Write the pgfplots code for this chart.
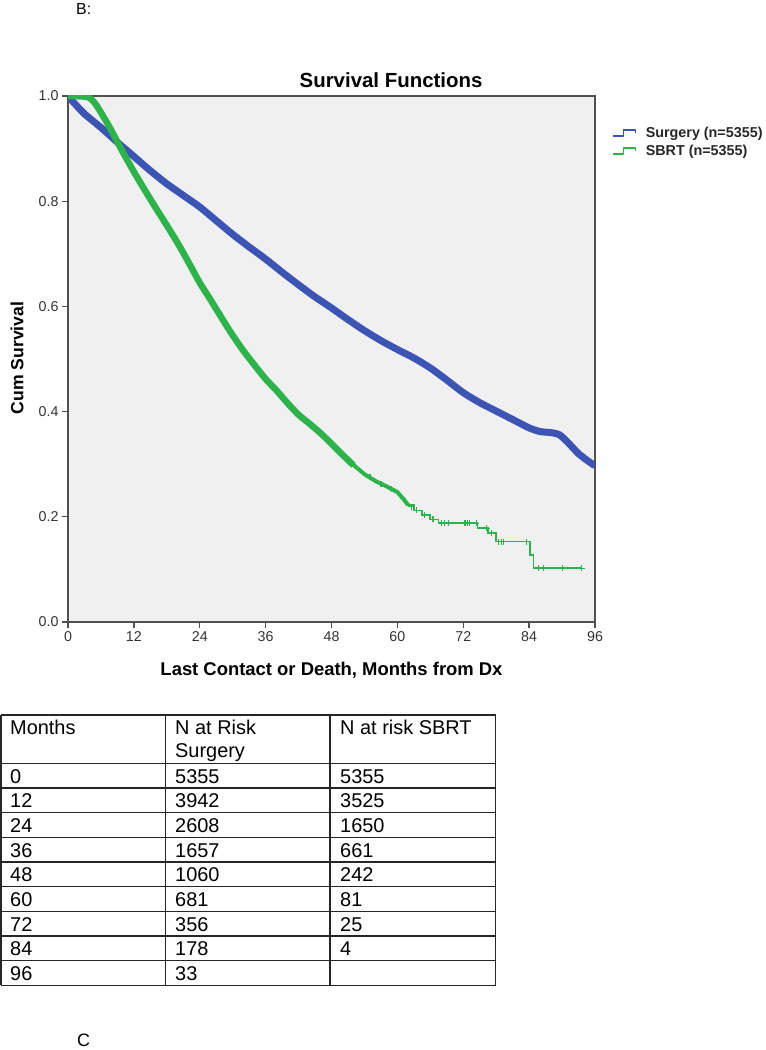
\documentclass[border=0pt]{standalone}
\usepackage{pgfplots}
\pgfplotsset{compat=1.18}
\usepackage{fontspec}
\setmainfont{Liberation Sans}
\definecolor{surg}{HTML}{3C54B4}
\definecolor{sbrt}{HTML}{2CB44A}
\definecolor{plotbg}{HTML}{F0F0F0}
\definecolor{axgray}{HTML}{505050}

\begin{document}
\begin{tikzpicture}[x=1bp,y=1bp]
\useasboundingbox (0,0) rectangle (766,1050);
\node[anchor=base west, inner sep=0pt, font=\fontsize{16}{19}\selectfont] at (76,1035) {B:};
\node[anchor=base west, inner sep=0pt, font=\fontsize{18}{21}\selectfont] at (77,3.5) {C};

\begin{axis}[
  at={(68bp,428bp)}, anchor=south west,
  width=527bp, height=526bp, scale only axis,
  xmin=0, xmax=96, ymin=0, ymax=1,
  xtick={0,12,24,36,48,60,72,84,96},
  ytick={0,0.2,0.4,0.6,0.8,1.0},
  yticklabel={\pgfmathprintnumber[fixed,fixed zerofill,precision=1]{\tick}},
  /pgf/number format/assume math mode=true,
  tick align=outside, xtick pos=left, ytick pos=left,
  major tick length=6bp,
  tick style={line width=1.3bp, color=axgray},
  axis line style={line width=1.3bp, color=axgray},
  axis background/.style={fill=plotbg},
  ticklabel style={font=\fontsize{14.3}{16}\selectfont, text=black!80},
  every axis title shift=0pt,
  title={Survival Functions},
  title style={at={(axis description cs:0.613,1.030)}, anchor=center, inner sep=0pt, font=\bfseries\fontsize{20.5}{24}\selectfont},
  xlabel={Last Contact or Death, Months from Dx},
  xlabel style={at={(axis description cs:0.5,-0.092)}, anchor=center, inner sep=0pt, font=\bfseries\fontsize{18.5}{22}\selectfont},
  ylabel={Cum Survival},
  ylabel style={at={(axis description cs:-0.0968,0.502)}, anchor=center, inner sep=0pt, font=\bfseries\fontsize{17.7}{21}\selectfont},
  legend style={at={(axis description cs:1.032,0.944)}, anchor=north west, draw=none, fill=none,
    font=\bfseries\fontsize{14.4}{16}\selectfont, row sep=3bp, inner sep=0pt,
    nodes={inner sep=1.5bp, text=black!85}},
  legend cell align=left,
  legend image code/.code={\draw[#1, line width=1.4bp, sharp corners] (0bp,-3bp) -- (11bp,-3bp) -- (11bp,3bp) -- (23bp,3bp) -- (23bp,0bp); \path (28bp,0bp);},
]
% Surgery
\addplot[color=surg, line width=7bp, line join=round, smooth, tension=0.4] coordinates {
(0,1.0) (1,0.988) (3,0.966) (6,0.94) (9,0.912) (12,0.885) (15,0.858) (18,0.833)
(21,0.811) (24,0.789) (27,0.763) (30,0.737) (33,0.713) (36,0.69) (39,0.665) (42,0.641)
(45,0.618) (48,0.597) (51,0.575) (54,0.554) (57,0.535) (60,0.518) (63,0.502)
(66,0.483) (69,0.46) (72,0.436) (75,0.417) (78,0.401) (81,0.385) (84,0.369)
(86,0.362) (88,0.36) (89.5,0.356) (91,0.342) (93,0.32) (95,0.304) (96,0.297)
};
\addlegendentry{Surgery (n=5355)}
% SBRT, dense part
\addplot[color=sbrt, line width=6.5bp, line join=round, smooth, tension=0.4] coordinates {
(0,1.0) (3.5,0.998) (5,0.985) (7.5,0.942) (10,0.893) (12,0.856) (14,0.821) (16,0.787)
(18,0.754) (20,0.72) (22,0.683) (24,0.645) (26,0.612) (28,0.578) (30,0.545)
(32,0.515) (34,0.488) (36,0.462) (38,0.44) (40,0.416) (42,0.394) (44,0.377)
(46,0.359) (48,0.339) (50,0.318) (52,0.298)
};
\addlegendentry{SBRT (n=5355)}
% SBRT, thinning part
\addplot[forget plot, color=sbrt, line width=4bp, line join=round] coordinates {
(51.5,0.303) (54,0.281) (56,0.268) (58,0.258) (60,0.247) (61,0.235) (62,0.222)
};
% SBRT, sparse part (steps)
\addplot[forget plot, color=sbrt, line width=1.8bp, const plot] coordinates {
(61.8,0.222) (63,0.212) (64.5,0.203) (66,0.195) (67.5,0.188)
(74.6,0.178) (76.5,0.169) (78.0,0.153) (84.2,0.127) (84.8,0.102) (93.6,0.102)
};
% SBRT censor marks
\addplot[forget plot, color=sbrt, only marks, mark=+, mark size=3bp, line width=1.2bp] coordinates {
(55,0.275) (57,0.263) (59,0.252) (61,0.235) (62.5,0.219) (63.5,0.212) (65,0.203)
(66.5,0.195) (68.1,0.188) (68.6,0.188)
(69.3,0.188) (72.3,0.188) (72.8,0.188) (73.2,0.188) (74.4,0.188) (76.3,0.178)
(77.2,0.169) (78.4,0.153) (79.0,0.153) (79.3,0.153) (83.5,0.153) (85.7,0.102)
(86.6,0.102) (90.1,0.102) (93.6,0.102)
};
\end{axis}

% Number-at-risk table
\begin{scope}[line width=1.3bp, draw=black!85]
\foreach \yy in {715,763.3,788,812.66,837.33,862,886.66,911.33,936,960.66,985.33}
  \draw (1,1050-\yy) -- (495.7,1050-\yy);
\foreach \xx in {1,165.7,330,495.7}
  \draw (\xx,1050-715) -- (\xx,1050-985.33);
\end{scope}
\begin{scope}[every node/.style={anchor=base west, inner sep=0pt, font=\fontsize{20}{23}\selectfont}]
\node at (10,1050-735) {Months};
\node at (175,1050-735) {N at Risk};
\node at (175,1050-757.5) {Surgery};
\node at (340,1050-735) {N at risk SBRT};
\foreach \m/\s/\b [count=\i from 0] in {0/5355/5355,12/3942/3525,24/2608/1650,36/1657/661,48/1060/242,60/681/81,72/356/25,84/178/4,96/33/{}} {
  \node at (10,1050-783.3-24.666*\i) {\m};
  \node at (175,1050-783.3-24.666*\i) {\s};
  \node at (340,1050-783.3-24.666*\i) {\b};
}
\end{scope}
\end{tikzpicture}
\end{document}
